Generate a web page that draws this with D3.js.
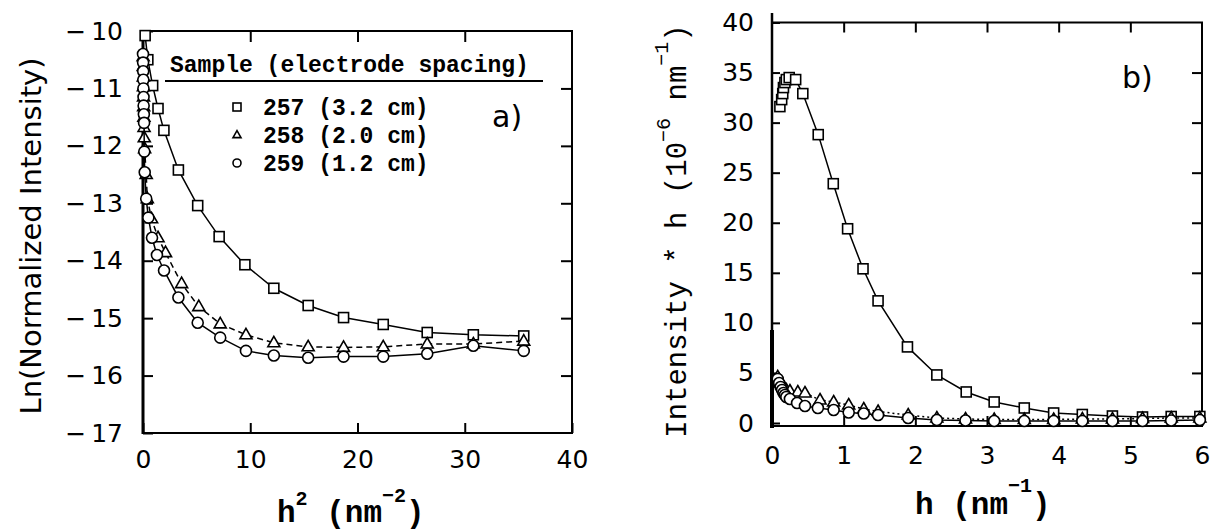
<!DOCTYPE html>
<html>
<head>
<meta charset="utf-8">
<script src="https://cdn.jsdelivr.net/npm/d3@7"></script>
<style>
  body { margin: 0; background: #fff; }
  text { fill: #000; }
</style>
</head>
<body>
<svg id="chart" width="1212" height="531"></svg>
<script>
// series labels (legend)
const sampleLabels = ["257 (3.2 cm)", "258 (2.0 cm)", "259 (1.2 cm)"];

// panel a) : h^2 (nm^-2) vs Ln(normalized intensity)
const a257 = [[0.2,-10.08],[0.45,-10.5],[0.9,-10.95],[1.4,-11.35],[1.95,-11.73],[3.3,-12.42],[5.1,-13.04],[7.1,-13.58],[9.5,-14.07],[12.2,-14.48],[15.4,-14.78],[18.7,-14.99],[22.4,-15.11],[26.5,-15.25],[30.8,-15.29],[35.5,-15.31]];
const a258 = [[0.01,-10.45],[0.02,-10.62],[0.03,-10.8],[0.04,-10.97],[0.05,-11.15],[0.06,-11.32],[0.08,-11.5],[0.1,-11.68],[0.12,-11.86],[0.15,-12.05],[0.3,-12.5],[0.4,-12.92],[0.8,-13.27],[1.4,-13.6],[2.1,-13.86],[3.6,-14.4],[5.2,-14.8],[7.2,-15.1],[9.6,-15.29],[12.2,-15.43],[15.4,-15.5],[18.7,-15.51],[22.4,-15.5],[26.5,-15.45],[30.8,-15.45],[35.5,-15.4]];
const a259 = [[0.0,-10.4],[0.01,-10.55],[0.02,-10.7],[0.03,-10.85],[0.04,-11.0],[0.05,-11.15],[0.06,-11.3],[0.08,-11.45],[0.1,-11.6],[0.12,-12.1],[0.16,-12.46],[0.3,-12.92],[0.5,-13.25],[0.84,-13.6],[1.3,-13.9],[1.96,-14.17],[3.3,-14.64],[5.1,-15.08],[7.2,-15.34],[9.6,-15.57],[12.2,-15.65],[15.4,-15.69],[18.7,-15.67],[22.4,-15.67],[26.5,-15.62],[30.8,-15.48],[35.5,-15.57]];

// panel b) : h (nm^-1) vs Intensity * h (10^-6 nm^-1)
const b257 = [[0.11,31.6],[0.135,32.3],[0.15,32.9],[0.16,33.5],[0.18,34.0],[0.2,34.3],[0.24,34.5],[0.33,34.3],[0.43,32.9],[0.645,28.8],[0.855,23.9],[1.055,19.4],[1.27,15.4],[1.48,12.2],[1.89,7.6],[2.3,4.8],[2.71,3.1],[3.1,2.1],[3.52,1.5],[3.93,1.0],[4.33,0.85],[4.75,0.7],[5.17,0.6],[5.57,0.65],[5.97,0.65]];
const b258 = [[0.08,4.6],[0.1,4.3],[0.12,4.0],[0.14,3.8],[0.16,3.6],[0.18,3.4],[0.2,3.3],[0.25,3.2],[0.36,3.1],[0.46,3.0],[0.67,2.3],[0.86,2.1],[1.07,1.8],[1.28,1.4],[1.48,1.15],[1.9,0.8],[2.3,0.5],[2.7,0.4],[3.1,0.35],[3.52,0.35],[3.93,0.35],[4.33,0.4],[4.75,0.4],[5.17,0.45],[5.57,0.5],[5.97,0.5]];
const b259 = [[0.08,4.4],[0.1,4.0],[0.12,3.6],[0.14,3.3],[0.16,3.0],[0.18,2.8],[0.2,2.6],[0.25,2.4],[0.35,2.0],[0.46,1.7],[0.64,1.5],[0.86,1.3],[1.07,1.05],[1.28,0.95],[1.48,0.8],[1.9,0.5],[2.3,0.3],[2.7,0.25],[3.1,0.2],[3.52,0.2],[3.93,0.2],[4.33,0.2],[4.75,0.2],[5.17,0.2],[5.57,0.25],[5.97,0.3]];

// tick values
const aXTicks = [0, 10, 20, 30, 40];
const aYTicks = [-17, -16, -15, -14, -13, -12, -11, -10];
const bXTicks = [0, 1, 2, 3, 4, 5, 6];
const bYTicks = [0, 5, 10, 15, 20, 25, 30, 35, 40];

const svg = d3.select("#chart");
const SANS = "DejaVu Sans";
const MONO = "'Courier New', 'Liberation Mono', monospace";
const fmt = d3.format("d");
// negative labels are set with a small gap after the minus, like the original
const fmtNeg = d => (d < 0 ? "\u2212\u2009" : "") + fmt(Math.abs(d));

function drawMarker(sel, shape, s) {
  if (shape === "square") {
    sel.append("rect").attr("x", -s / 2).attr("y", -s / 2).attr("width", s).attr("height", s);
  } else if (shape === "triangle") {
    const h = s * 0.87;
    sel.append("path").attr("d", `M0,${-h * 0.62}L${s / 2},${h * 0.38}L${-s / 2},${h * 0.38}Z`);
  } else {
    sel.append("circle").attr("r", s / 2);
  }
}

function styleAxis(g, fontSize) {
  g.select(".domain").remove();
  g.selectAll(".tick line").attr("stroke", "#000").attr("stroke-width", 2);
  g.selectAll(".tick text").attr("font-family", SANS).attr("font-size", fontSize).attr("fill", "#000");
}

function drawSeries(g, x, y, data, shape, size, dash) {
  const line = d3.line().x(d => x(d[0])).y(d => y(d[1]));
  g.append("path").datum(data)
    .attr("fill", "none").attr("stroke", "#000").attr("stroke-width", 1.5)
    .attr("stroke-dasharray", dash)
    .attr("d", line);
  g.append("g").selectAll("g").data(data).join("g")
    .attr("transform", d => `translate(${x(d[0])},${y(d[1])})`)
    .attr("fill", "#fff").attr("stroke", "#000").attr("stroke-width", 1.6)
    .each(function() { drawMarker(d3.select(this), shape, size); });
}

// ---------- panel a ----------
const xA = d3.scaleLinear().domain([0, 40]).range([143, 572]);
const yA = d3.scaleLinear().domain([-17, -10]).range([433, 31]);
const gA = svg.append("g");

gA.append("g").attr("transform", "translate(0,433)")
  .call(d3.axisBottom(xA).tickValues(aXTicks).tickFormat(fmt).tickSize(-10).tickPadding(17))
  .call(g => styleAxis(g, 25));
gA.append("g").attr("transform", "translate(0,31)")
  .call(d3.axisTop(xA).tickValues(aXTicks.slice(1, -1)).tickSize(-11).tickFormat(""))
  .call(g => styleAxis(g, 25));
gA.append("g").attr("transform", "translate(143,0)")
  .call(d3.axisLeft(yA).tickValues(aYTicks).tickFormat(fmtNeg).tickSize(-10).tickPadding(20))
  .call(g => styleAxis(g, 25));
gA.append("g").attr("transform", "translate(572,0)")
  .call(d3.axisRight(yA).tickValues(aYTicks.slice(1, -1)).tickSize(-11).tickFormat(""))
  .call(g => styleAxis(g, 25));

gA.append("rect").attr("x", 143).attr("y", 31).attr("width", 429).attr("height", 402)
  .attr("fill", "none").attr("stroke", "#000").attr("stroke-width", 2);
gA.append("line").attr("x1", 143).attr("x2", 143).attr("y1", 31).attr("y2", 434)
  .attr("stroke", "#000").attr("stroke-width", 3);

drawSeries(gA, xA, yA, a257, "square", 10, null);
drawSeries(gA, xA, yA, a258, "triangle", 12, "6,4");
drawSeries(gA, xA, yA, a259, "circle", 11, null);

// legend
const leg = gA.append("g");
leg.append("text").attr("x", 170).attr("y", 72)
  .attr("font-family", MONO).attr("font-weight", "bold").attr("font-size", 23)
  .text("Sample (electrode spacing)");
leg.append("line").attr("x1", 165).attr("x2", 543).attr("y1", 81).attr("y2", 81)
  .attr("stroke", "#000").attr("stroke-width", 2);
const legShapes = ["square", "triangle", "circle"];
sampleLabels.forEach((lab, i) => {
  const cy = 107 + i * 28;
  const m = leg.append("g").attr("transform", `translate(237,${cy})`)
    .attr("fill", "#fff").attr("stroke", "#000").attr("stroke-width", 1.6);
  drawMarker(m, legShapes[i], 8);
  leg.append("text").attr("x", 263).attr("y", cy + 8)
    .attr("font-family", MONO).attr("font-weight", "bold").attr("font-size", 23)
    .text(lab);
});
gA.append("text").attr("x", 492).attr("y", 127)
  .attr("font-family", SANS).attr("font-size", 30).text("a)");

// axis titles a
gA.append("text").attr("transform", "translate(41,236) rotate(-90)")
  .attr("text-anchor", "middle").attr("font-family", SANS).attr("font-size", 29)
  .text("Ln(Normalized Intensity)");
const tA = gA.append("text").attr("x", 277).attr("y", 522)
  .attr("font-family", MONO).attr("font-weight", "bold").attr("font-size", 31);
tA.append("tspan").text("h");
tA.append("tspan").attr("dy", -17).attr("font-size", 20).text("2");
tA.append("tspan").attr("dy", 17).text(" (nm");
tA.append("tspan").attr("dy", -20).attr("font-size", 20).text("−2");
tA.append("tspan").attr("dy", 20).text(")");

// ---------- panel b ----------
const xB = d3.scaleLinear().domain([0, 6]).range([772, 1202]);
const yB = d3.scaleLinear().domain([0, 40]).range([423, 22.5]);
const gB = svg.append("g");

gB.append("g").attr("transform", "translate(0,426)")
  .call(d3.axisBottom(xB).tickValues(bXTicks).tickFormat(fmt).tickSize(-10).tickPadding(20))
  .call(g => styleAxis(g, 25));
gB.append("g").attr("transform", "translate(0,22.5)")
  .call(d3.axisTop(xB).tickValues(bXTicks.slice(1, -1)).tickSize(-10).tickFormat(""))
  .call(g => styleAxis(g, 25));
gB.append("g").attr("transform", "translate(772,0)")
  .call(d3.axisLeft(yB).tickValues(bYTicks).tickFormat(fmt).tickSize(-8).tickPadding(18))
  .call(g => styleAxis(g, 25));
gB.append("g").attr("transform", "translate(1202,0)")
  .call(d3.axisRight(yB).tickValues(bYTicks.slice(1, -1)).tickSize(-10).tickFormat(""))
  .call(g => styleAxis(g, 25));

gB.append("rect").attr("x", 772).attr("y", 22.5).attr("width", 430).attr("height", 403.5)
  .attr("fill", "none").attr("stroke", "#000").attr("stroke-width", 2);
gB.append("line").attr("x1", 772).attr("x2", 772).attr("y1", 13).attr("y2", 428)
  .attr("stroke", "#000").attr("stroke-width", 2.5);
gB.append("line").attr("x1", 772).attr("x2", 772).attr("y1", 330).attr("y2", 428)
  .attr("stroke", "#000").attr("stroke-width", 4);

drawSeries(gB, xB, yB, b257, "square", 10, null);
drawSeries(gB, xB, yB, b258, "triangle", 12, "2,3");
drawSeries(gB, xB, yB, b259, "circle", 11, null);

gB.append("text").attr("x", 1122).attr("y", 88)
  .attr("font-family", SANS).attr("font-size", 30).text("b)");

// axis titles b
const tBy = gB.append("text").attr("transform", "translate(686,231) rotate(-90)")
  .attr("text-anchor", "middle").attr("font-family", MONO).attr("font-size", 29);
tBy.append("tspan").text("Intensity * h (10");
tBy.append("tspan").attr("dy", -16).attr("font-size", 20).text("−6");
tBy.append("tspan").attr("dy", 16).text(" nm");
tBy.append("tspan").attr("dy", -18).attr("font-size", 20).text("−1");
tBy.append("tspan").attr("dy", 18).text(")");

const tBx = gB.append("text").attr("x", 915).attr("y", 514)
  .attr("font-family", MONO).attr("font-weight", "bold").attr("font-size", 31);
tBx.append("tspan").text("h (nm");
tBx.append("tspan").attr("dy", -22).attr("font-size", 20).text("−1");
tBx.append("tspan").attr("dy", 22).text(")");
</script>
</body>
</html>
